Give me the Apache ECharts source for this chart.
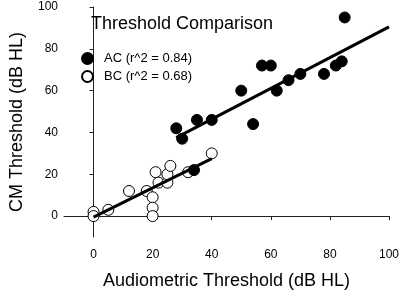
<!DOCTYPE html>
<html>
<head>
<meta charset="utf-8">
<style>
  html, body { margin: 0; padding: 0; background: #fff; }
  #chart { width: 403px; height: 295px; }
</style>
<script src="https://cdn.jsdelivr.net/npm/echarts@6/dist/echarts.min.js"></script>
</head>
<body>
<div id="chart"></div>
<script>
// AC = air conduction (filled), BC = bone conduction (open)
const acPoints = [[28, 42], [30, 37], [34, 22], [35, 46], [40, 46], [50, 60], [54, 44], [57, 72],
  [60, 72], [62, 60], [66, 65], [70, 68], [78, 68], [82, 72], [84, 74], [85, 95]]
const bcPoints = [[0, 2], [0, 0], [5, 3], [12, 12], [18, 12], [20, 9], [20, 4], [20, 0],
  [21, 21], [22, 16], [25, 16], [25, 20], [26, 24], [32, 21], [40, 30]]
// regression line end points
const acFit = [[28, 37.5], [100, 90.5]]
const bcFit = [[0, -0.5], [40, 27.5]]
const xTicks = [0, 20, 40, 60, 80, 100]
const yTicks = [0, 20, 40, 60, 80, 100]
const seriesNames = ['AC (r^2 = 0.84)', 'BC (r^2 = 0.68)']

const font = 'Liberation Sans, Arial, sans-serif'
const chart = echarts.init(document.getElementById('chart'))

const axisBase = {
  axisLine: { lineStyle: { color: '#222', width: 1 } },
  axisTick: { length: 4, lineStyle: { color: '#222' } },
  splitLine: { show: false },
  nameLocation: 'middle',
  nameTextStyle: { fontFamily: font, fontSize: 18, color: '#000' }
}

chart.setOption({
  animation: false,
  title: {
    text: 'Threshold Comparison',
    left: 86,
    top: 10,
    textStyle: { fontFamily: font, fontSize: 18, fontWeight: 'normal', color: '#000' }
  },
  legend: {
    data: seriesNames,
    orient: 'vertical',
    left: 76,
    top: 47,
    itemWidth: 23,
    itemHeight: 11,
    itemGap: 5,
    icon: 'circle',
    textStyle: { fontFamily: font, fontSize: 13, color: '#000' }
  },
  grid: { left: 59, right: 14, top: 7, bottom: 57 },
  xAxis: {
    ...axisBase,
    type: 'value',
    min: -10,
    max: 100,
    name: 'Audiometric Threshold (dB HL)',
    nameGap: 35,
    axisTick: { ...axisBase.axisTick, customValues: xTicks },
    axisLabel: { customValues: xTicks, margin: 12, fontFamily: font, fontSize: 12, color: '#000' }
  },
  yAxis: {
    ...axisBase,
    type: 'value',
    min: -10,
    max: 100,
    name: 'CM Threshold (dB HL)',
    nameGap: 38,
    axisTick: { ...axisBase.axisTick, customValues: yTicks },
    axisLabel: { customValues: yTicks, margin: 6, fontFamily: font, fontSize: 12, color: '#000' }
  },
  series: [
    {
      name: seriesNames[0],
      type: 'scatter',
      data: acPoints,
      symbol: 'circle',
      symbolSize: 11,
      itemStyle: { color: '#000', borderColor: '#000', borderWidth: 1, opacity: 1 },
      z: 3
    },
    {
      name: seriesNames[1],
      type: 'scatter',
      data: bcPoints,
      symbol: 'circle',
      symbolSize: 11,
      itemStyle: { color: '#fff', borderColor: '#000', borderWidth: 1, opacity: 1 },
      z: 2
    },
    {
      type: 'line',
      data: acFit,
      showSymbol: false,
      silent: true,
      lineStyle: { color: '#000', width: 3 },
      z: 4
    },
    {
      type: 'line',
      data: bcFit,
      showSymbol: false,
      silent: true,
      lineStyle: { color: '#000', width: 3 },
      z: 4
    }
  ]
})

window.addEventListener('resize', () => chart.resize())
</script>
</body>
</html>
